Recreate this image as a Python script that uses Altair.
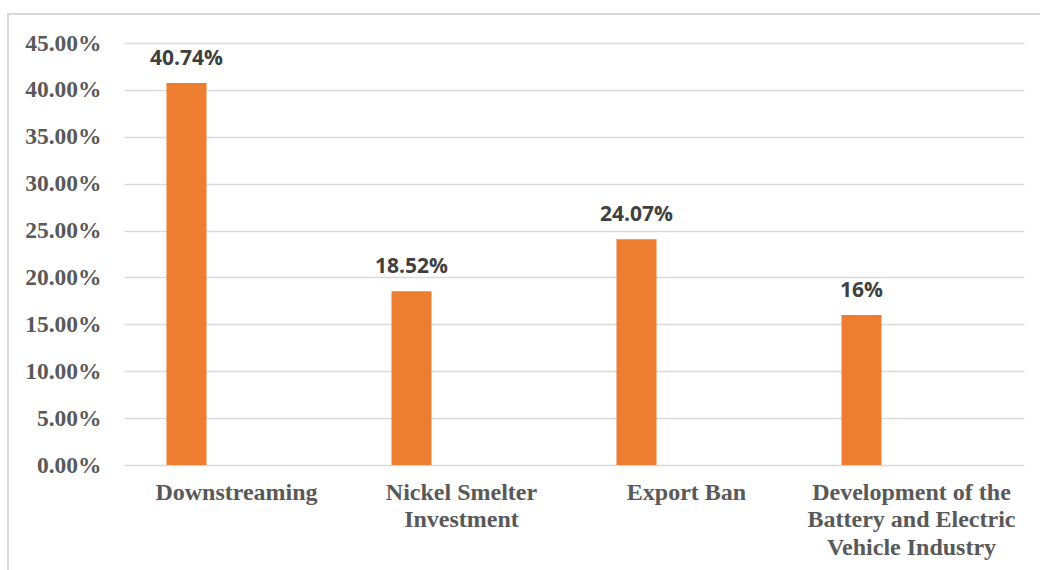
import altair as alt
import pandas as pd

categories = ["Downstreaming", "Nickel Smelter|Investment", "Export Ban",
              "Development of the|Battery and Electric|Vehicle Industry"]
values = [0.4074, 0.1852, 0.2407, 0.16]
value_labels = ["40.74%", "18.52%", "24.07%", "16%"]
y_ticks = [0.0, 0.05, 0.10, 0.15, 0.20, 0.25, 0.30, 0.35, 0.40, 0.45]

df = pd.DataFrame({"cat": categories, "val": values, "lab": value_labels})

x_enc = alt.X("cat:N", sort=categories, title=None,
              scale=alt.Scale(paddingInner=0, paddingOuter=0),
              axis=alt.Axis(labelAngle=0, labelExpr="split(datum.label, '|')",
                            labelFont="Liberation Serif", labelFontWeight="bold",
                            labelFontSize=24, labelColor="#595959",
                            labelLineHeight=27.5, labelPadding=15, labelBaseline="top",
                            domain=False, ticks=False, grid=False, labelLimit=400))
y_enc = alt.Y("val:Q", title=None,
              scale=alt.Scale(domain=[0, 0.45], nice=False, zero=True),
              axis=alt.Axis(values=y_ticks, format=".2%",
                            labelFont="Liberation Serif", labelFontWeight="bold",
                            labelFontSize=23.5, labelColor="#595959", labelPadding=23,
                            domain=False, ticks=False, grid=True,
                            gridColor="#d9d9d9", gridWidth=1.5))

bars = alt.Chart(df).mark_bar(width=40, xOffset=-50, color="#ED7D31").encode(x=x_enc, y=y_enc)

texts = alt.Chart(df).mark_text(xOffset=-50, dy=-18, baseline="alphabetic", align="center",
                                font="Open Sans", fontWeight="bold", fontSize=21,
                                color="#404040").encode(x=alt.X("cat:N", sort=categories),
                                                        y=alt.Y("val:Q"), text="lab:N")

border = alt.Chart(df).mark_rect(fillOpacity=0, stroke="#d9d9d9", strokeWidth=1.5,
                                 clip=False).encode(
    x=alt.value(-116), x2=alt.value(1200), y=alt.value(-29), y2=alt.value(800))

chart = alt.layer(border, bars, texts).properties(
    width=900, height=422,
    autosize=alt.AutoSizeParams(type="none"),
    padding={"left": 124, "top": 43, "right": 16, "bottom": 105},
    background="white",
).configure_view(stroke=None)

chart.save("out.html", embed_options={"renderer": "svg", "actions": False})
